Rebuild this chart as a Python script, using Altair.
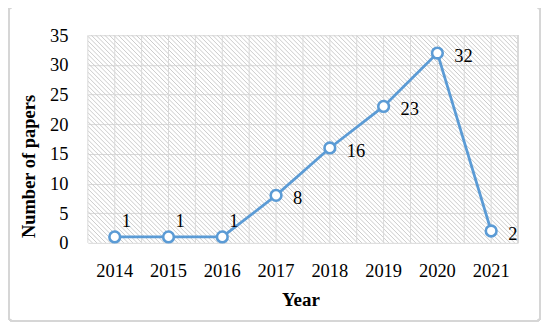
import altair as alt
import pandas as pd

years = ["2014", "2015", "2016", "2017", "2018", "2019", "2020", "2021"]
papers = [1, 1, 1, 8, 16, 23, 32, 2]

W, H = 431, 208
BLUE = "#5B9BD5"
GRID = "#d9d9d9"
FONT = "Liberation Serif"

df = pd.DataFrame({"year": years, "papers": papers, "idx": list(range(len(years)))})

# decorative diagonal hatch of the plot area (pixel space)
step = 4.5
rows = []
c = -H
while c < W:
    if c >= 0:
        x0, y0 = c, 0
    else:
        x0, y0 = 0, -c
    x1, y1 = H + c, H
    if x1 > W:
        x1, y1 = W, W - c
    rows.append({"hx": x0, "hy": y0, "hx2": x1, "hy2": y1})
    c += step
hatch_df = pd.DataFrame(rows)

hatch = alt.Chart(hatch_df).mark_rule(color="#cbcbcb", strokeWidth=1).encode(
    x=alt.X("hx:Q", scale=None),
    y=alt.Y("hy:Q", scale=None),
    x2="hx2:Q",
    y2="hy2:Q",
)

base = alt.Chart(df)

xaxis = alt.Axis(
    title="Year", labelAngle=0, domain=False, ticks=False, grid=False,
    labelPadding=34, labelBaseline="alphabetic", labelFontSize=18.5,
    labelColor="#000000", labelFont=FONT,
    titleFontSize=19, titleFontWeight="bold", titleX=213, titleY=63,
    titleBaseline="alphabetic", titleAlign="center", titleColor="#000000",
    titleFont=FONT,
)
yaxis = alt.Axis(
    title="Number of papers", values=[0, 5, 10, 15, 20, 25, 30, 35],
    domain=False, ticks=False, grid=True, gridColor=GRID, labelPadding=20,
    labelFontSize=18.5, labelColor="#000000", labelFont=FONT, titleFontSize=18.5,
    titleFontWeight="bold", titleX=-53, titleY=131, titleAngle=-90,
    titleBaseline="alphabetic", titleAlign="center", titleColor="#000000",
    titleFont=FONT,
)
xscale = alt.Scale(paddingInner=0, paddingOuter=0)
yscale = alt.Scale(domain=[0, 35], nice=False)

def X(**kw):
    return alt.X("year:O", sort=years, scale=xscale, axis=xaxis, **kw)

def Y():
    return alt.Y("papers:Q", scale=yscale, axis=yaxis)

vgrid_c = base.mark_rule(color=GRID, strokeWidth=1).encode(x=X())
vgrid_b = base.mark_rule(color=GRID, strokeWidth=1).encode(x=X(bandPosition=0))
vgrid_r = base.mark_rule(color=GRID, strokeWidth=1).encode(
    x=alt.value(W), y=alt.value(0), y2=alt.value(H)
)

line = base.mark_line(color=BLUE, strokeWidth=2.75).encode(x=X(), y=Y())
pts = base.mark_point(
    shape="circle", filled=True, fill="white", stroke=BLUE, strokeWidth=2.6,
    size=115, opacity=1,
).encode(x=X(), y=Y())

lab_low = base.transform_filter("datum.idx < 3").mark_text(
    align="left", baseline="middle", dx=7, dy=-16, fontSize=18.5, color="#000000",
    font=FONT,
).encode(x=X(), y=Y(), text="papers:Q")
lab_hi = base.transform_filter("datum.idx >= 3").mark_text(
    align="left", baseline="middle", dx=17, dy=3, fontSize=18.5, color="#000000",
    font=FONT,
).encode(x=X(), y=Y(), text="papers:Q")

border = alt.Chart(df).mark_rect(
    fill=None, stroke="#d6d6d6", strokeWidth=1.6, cornerRadius=3
).encode(
    x=alt.value(-79), x2=alt.value(W + 22), y=alt.value(-28), y2=alt.value(H + 78)
)

chart = alt.layer(
    border, hatch, vgrid_c, vgrid_b, vgrid_r, line, pts, lab_low, lab_hi
).properties(
    width=W, height=H,
    autosize=alt.AutoSizeParams(type="none"),
    padding={"left": 80, "top": 27, "right": 24, "bottom": 80},
).configure(font=FONT).configure_view(stroke=None)

chart.save("out.html", embed_options={"renderer": "svg", "actions": False})
